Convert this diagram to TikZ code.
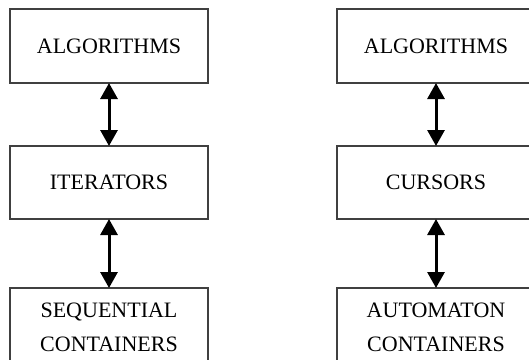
\documentclass[tikz,border=0pt]{standalone}
\usepackage{fontspec}
\setmainfont{Liberation Serif}
\usetikzlibrary{arrows.meta}
\tikzset{
  box/.style={draw=black!75, line width=1.4pt, rectangle, minimum width=198pt, minimum height=74pt, inner sep=0pt, align=center, font=\fontsize{22}{34}\selectfont},
  link/.style={line width=3pt, {Triangle[length=16pt,width=17pt]}-{Triangle[length=16pt,width=17pt]}, shorten <=-0.7pt, shorten >=-0.7pt}
}
\begin{document}
\begin{tikzpicture}[x=1pt,y=-1pt]
\clip (0,0) rectangle (529,359);
\useasboundingbox (0,0) rectangle (529,359);
\node[box] (la) at (109,46) {ALGORITHMS};
\node[box, minimum height=73pt] (li) at (109,182.5) {ITERATORS};
\node[box, minimum height=79pt] (lc) at (109,327.5) {SEQUENTIAL\\CONTAINERS};
\node[box] (ra) at (436,46) {ALGORITHMS};
\node[box, minimum height=73pt] (ri) at (436,182.5) {CURSORS};
\node[box, minimum height=79pt] (rc) at (436,327.5) {AUTOMATON\\CONTAINERS};
\draw[link] (la.south) -- (li.north);
\draw[link] (li.south) -- (lc.north);
\draw[link] (ra.south) -- (ri.north);
\draw[link] (ri.south) -- (rc.north);
\end{tikzpicture}
\end{document}
